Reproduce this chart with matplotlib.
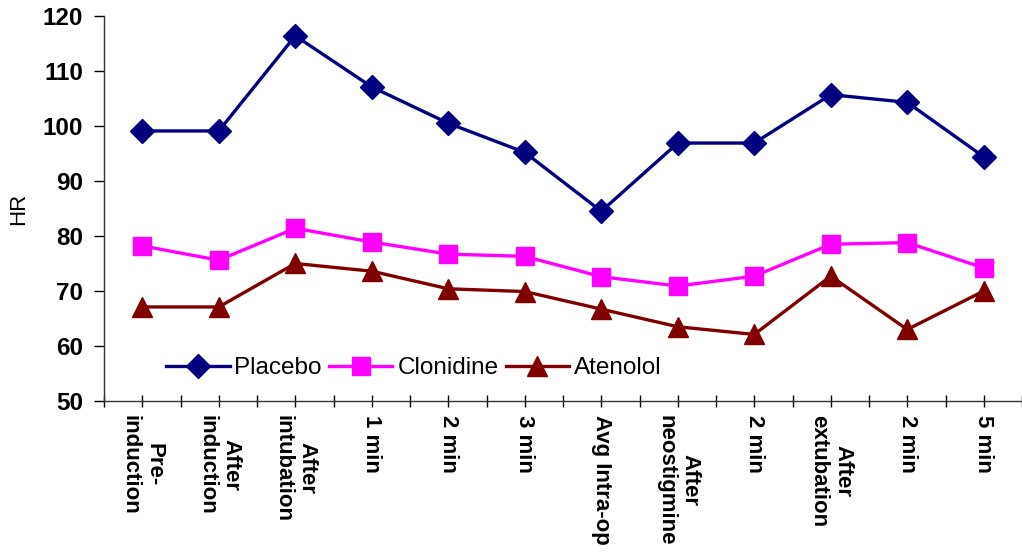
import numpy as np
import matplotlib.pyplot as plt
from matplotlib.ticker import FixedLocator, MultipleLocator

plt.rcParams['font.family'] = ['Liberation Sans', 'DejaVu Sans']

labels = ['Pre-\ninduction', 'After\ninduction', 'After\nintubation', '1 min', '2 min',
          '3 min', 'Avg Intra-op', 'After\nneostigmine', '2 min', 'After\nextubation',
          '2 min', '5 min']
placebo = [99.1, 99.1, 116.4, 107.1, 100.5, 95.2, 84.5, 96.9, 96.9, 105.7, 104.3, 94.4]
clonidine = [78.2, 75.6, 81.4, 78.9, 76.7, 76.3, 72.6, 70.9, 72.7, 78.5, 78.8, 74.2]
atenolol = [67.1, 67.1, 75.0, 73.6, 70.4, 69.9, 66.7, 63.5, 62.1, 72.7, 63.0, 70.0]

fig = plt.figure(figsize=(10.22, 5.56), dpi=100)
ax = fig.add_axes([0.1018, 0.2788, 0.8982, 0.6924])

x = np.arange(len(labels))
l1, = ax.plot(x, placebo, color='#000080', lw=2.4, marker='D', ms=12, label='Placebo')
l2, = ax.plot(x, clonidine, color='#FF00FF', lw=2.4, marker='s', ms=13, label='Clonidine')
l3, = ax.plot(x, atenolol, color='#800000', lw=2.4, marker='^', ms=15, label='Atenolol')

ax.set_xlim(-0.5, len(labels) - 0.5)
ax.set_ylim(50, 120)
ax.yaxis.set_major_locator(MultipleLocator(10))
ax.set_xticks(x)
ax.xaxis.set_minor_locator(FixedLocator(np.arange(-0.5, len(labels), 1)))
ax.set_xticklabels(labels, rotation=270, ha='center', va='top', multialignment='center',
                   fontsize=16, fontweight='bold')
for t in ax.get_yticklabels():
    t.set_fontsize(17.5)
    t.set_fontweight('bold')

ax.tick_params(axis='x', which='both', direction='inout', length=8, width=1, pad=6)
ax.tick_params(axis='y', direction='out', length=7, width=1, pad=8)
ax.spines['top'].set_visible(False)
ax.spines['right'].set_visible(False)
for s in ('left', 'bottom'):
    ax.spines[s].set_linewidth(1)
    ax.spines[s].set_color('#333333')

ax.set_ylabel('HR', fontsize=16, labelpad=10)

fig.legend(handles=[l1, l2, l3], loc='center', bbox_to_anchor=(0.405, 0.338), ncol=3,
           frameon=False, fontsize=17.5, handlelength=2.6, columnspacing=0.3,
           handletextpad=0.2, borderpad=0)

fig.savefig('out.png', dpi=100)
